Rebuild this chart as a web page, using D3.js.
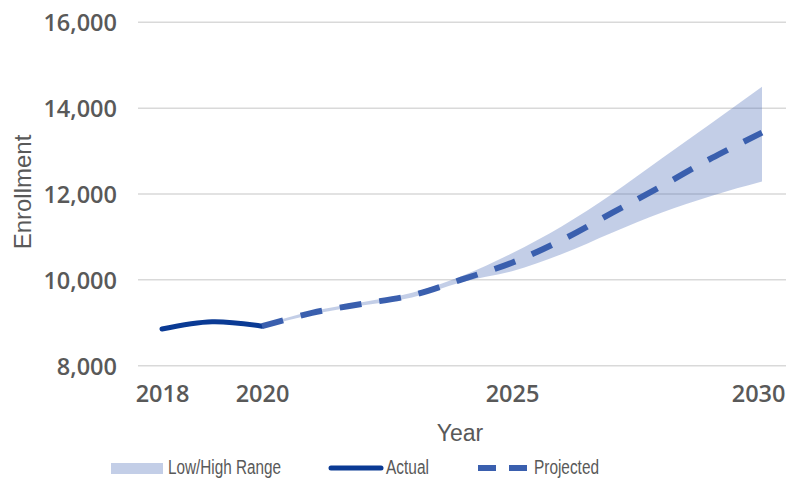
<!DOCTYPE html>
<html>
<head>
<meta charset="utf-8">
<script src="https://cdn.jsdelivr.net/npm/d3@7/dist/d3.min.js"></script>
<style>
  html, body { margin: 0; padding: 0; background: #fff; }
  svg { display: block; }
</style>
</head>
<body>
<svg id="chart" width="786" height="479"></svg>
<script>
// ---- Data ----
const actualYears = [2018, 2019, 2020];
const actualValues = [8855, 9025, 8920];

const projYears = [2020, 2021, 2022, 2023, 2024, 2025, 2026, 2027, 2028, 2029, 2030];
const projValues = [8920, 9230, 9440, 9640, 10010, 10400, 10930, 11560, 12190, 12840, 13430];
const lowValues  = [8890, 9190, 9400, 9590, 9950, 10200, 10600, 11100, 11570, 11960, 12290];
const highValues = [8950, 9270, 9480, 9700, 10090, 10620, 11250, 12000, 12830, 13660, 14500];

const yTicks = [8000, 10000, 12000, 14000, 16000];
const xTickYears = [2018, 2020, 2025, 2030];
const legendLabels = ["Low/High Range", "Actual", "Projected"];

// ---- Layout ----
const svg = d3.select("#chart");
const textColor = "#595959";
const x = d3.scaleLinear().domain([2017.5, 2030.5]).range([137, 787]);
const y = d3.scaleLinear().domain([8000, 16000]).range([365.7, 22.3]);

const tickFont = "'Open Sans', 'Liberation Sans', Arial, sans-serif";
const titleFont = "'Liberation Sans', Arial, sans-serif";

// gridlines
svg.append("g").selectAll("line").data(yTicks).join("line")
  .attr("x1", 138).attr("x2", 786)
  .attr("y1", d => y(d)).attr("y2", d => y(d))
  .attr("stroke", "#d9d9d9").attr("stroke-width", 1.5);

// y axis
const yAxis = d3.axisLeft(y).tickValues(yTicks).tickFormat(d3.format(",")).tickSize(0).tickPadding(0);
const gy = svg.append("g").attr("transform", "translate(117,0)").call(yAxis);
gy.select(".domain").remove();
gy.selectAll("text").attr("fill", textColor).attr("font-family", tickFont)
  .attr("font-size", 23.5).attr("font-weight", 600).attr("dy", "0.36em");

// x axis
const xAxis = d3.axisBottom(x).tickValues(xTickYears).tickFormat(d3.format("d")).tickSize(0).tickPadding(0);
const gx = svg.append("g").attr("transform", "translate(0,385)").call(xAxis);
gx.select(".domain").remove();
gx.selectAll("text").attr("fill", textColor).attr("font-family", tickFont)
  .attr("font-size", 23.5).attr("font-weight", 600).attr("dy", "0.72em");
// keep the last label inside the picture edge
gx.selectAll(".tick").filter(d => d === 2030).select("text")
  .attr("text-anchor", "end").attr("x", 785 - x(2030));

// axis titles
svg.append("text").attr("x", 460).attr("y", 441).attr("text-anchor", "middle")
  .attr("fill", textColor).attr("font-family", titleFont).attr("font-size", 23).text("Year");
svg.append("text").attr("transform", "translate(31,192) rotate(-90)").attr("text-anchor", "middle")
  .attr("fill", textColor).attr("font-family", titleFont).attr("font-size", 24).text("Enrollment");

// band
const bandData = projYears.map((yr, i) => ({ yr, lo: lowValues[i], hi: highValues[i] }));
const area = d3.area().x(d => x(d.yr)).y0(d => y(d.lo)).y1(d => y(d.hi)).curve(d3.curveMonotoneX);
svg.append("path").datum(bandData).attr("d", area)
  .attr("fill", "rgb(68,104,180)").attr("fill-opacity", 0.32);

// actual line
const actualData = actualYears.map((yr, i) => ({ yr, v: actualValues[i] }));
const line = d3.line().x(d => x(d.yr)).y(d => y(d.v)).curve(d3.curveCatmullRom.alpha(0.5));
svg.append("path").datum(actualData).attr("d", line)
  .attr("fill", "none").attr("stroke", "#0a3a94").attr("stroke-width", 5).attr("stroke-linecap", "round");

// projected line
const projData = projYears.map((yr, i) => ({ yr, v: projValues[i] }));
svg.append("path").datum(projData).attr("d", line)
  .attr("fill", "none").attr("stroke", "#3a5fae").attr("stroke-width", 6)
  .attr("stroke-dasharray", "22,18");

// legend
const lg = svg.append("g");
lg.append("rect").attr("x", 111).attr("y", 463).attr("width", 52).attr("height", 11)
  .attr("fill", "rgb(68,104,180)").attr("fill-opacity", 0.32);
lg.append("line").attr("x1", 331).attr("x2", 381).attr("y1", 468).attr("y2", 468)
  .attr("stroke", "#0a3a94").attr("stroke-width", 5).attr("stroke-linecap", "round");
lg.append("line").attr("x1", 478).attr("x2", 528).attr("y1", 468).attr("y2", 468)
  .attr("stroke", "#3a5fae").attr("stroke-width", 6).attr("stroke-dasharray", "18,13");
const legX = [168, 386, 534];
const legW = [113, 43, 65];
lg.selectAll("text.leg").data(legendLabels).join("text").attr("class", "leg")
  .attr("x", (d, i) => legX[i]).attr("y", 474)
  .attr("fill", textColor).attr("font-family", titleFont).attr("font-size", 19.5)
  .attr("textLength", (d, i) => legW[i]).attr("lengthAdjust", "spacingAndGlyphs")
  .text(d => d);
</script>
</body>
</html>
